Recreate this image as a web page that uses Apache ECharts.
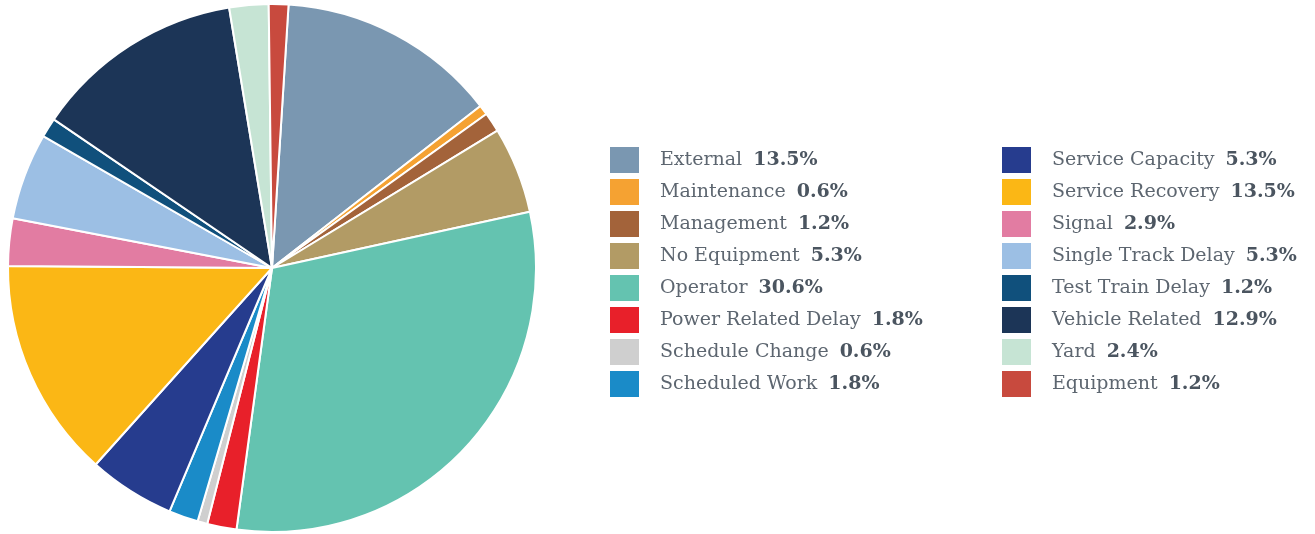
<!DOCTYPE html>
<html><head><meta charset="utf-8">
<script src="https://cdn.jsdelivr.net/npm/echarts@6/dist/echarts.min.js"></script>
<style>html,body{margin:0;padding:0;background:#fff}#c{width:1315px;height:534px}</style>
</head><body><div id="c"></div>
<script>
const categories = ["External","Maintenance","Management","No Equipment","Operator","Power Related Delay","Schedule Change","Scheduled Work","Service Capacity","Service Recovery","Signal","Single Track Delay","Test Train Delay","Vehicle Related","Yard","Equipment"];
const values = [13.5,0.6,1.2,5.3,30.6,1.8,0.6,1.8,5.3,13.5,2.9,5.3,1.2,12.9,2.4,1.2];
const colors = ["#7a97b1","#f5a232","#a3633a","#b29b65","#64c3b0","#e8202a","#cfcfcf","#1a8bc8","#263c8e","#fbb715","#e27ca2","#9cbfe4","#10507c","#1c3557","#c6e4d4","#c84a3e"];
const col1 = categories.slice(0,8);
const col2 = categories.slice(8);

const chart = echarts.init(document.getElementById('c'));
const fmt = name => {
  const v = values[categories.indexOf(name)];
  return '{n|' + name + '}{p|' + v.toFixed(1) + '%}';
};
const rich = {
  n:{fontFamily:'DejaVu Serif',fontSize:19,lineHeight:22,color:'#5d6670',padding:[0,0,0,16]},
  p:{fontFamily:'DejaVu Serif',fontSize:19,lineHeight:22,fontWeight:'bold',color:'#4b5560',padding:[0,0,0,11]}
};
const legendBase = {orient:'vertical',top:147,padding:0,itemWidth:29,itemHeight:26,itemGap:6,icon:'rect',
  itemStyle:{borderWidth:0},
  formatter:fmt,textStyle:{rich:rich},selectedMode:false};
chart.setOption({
  animation:false,
  color:colors,
  legend:[
    Object.assign({},legendBase,{left:610,data:col1}),
    Object.assign({},legendBase,{left:1002,data:col2})
  ],
  series:[{
    type:'pie',
    center:[272,268],
    radius:[0,264],
    startAngle:86.4,
    label:{show:false},
    labelLine:{show:false},
    itemStyle:{borderColor:'#fff',borderWidth:2},
    emphasis:{disabled:true},
    data:categories.map((c,i)=>({name:c,value:values[i]}))
  }]
});
</script></body></html>
